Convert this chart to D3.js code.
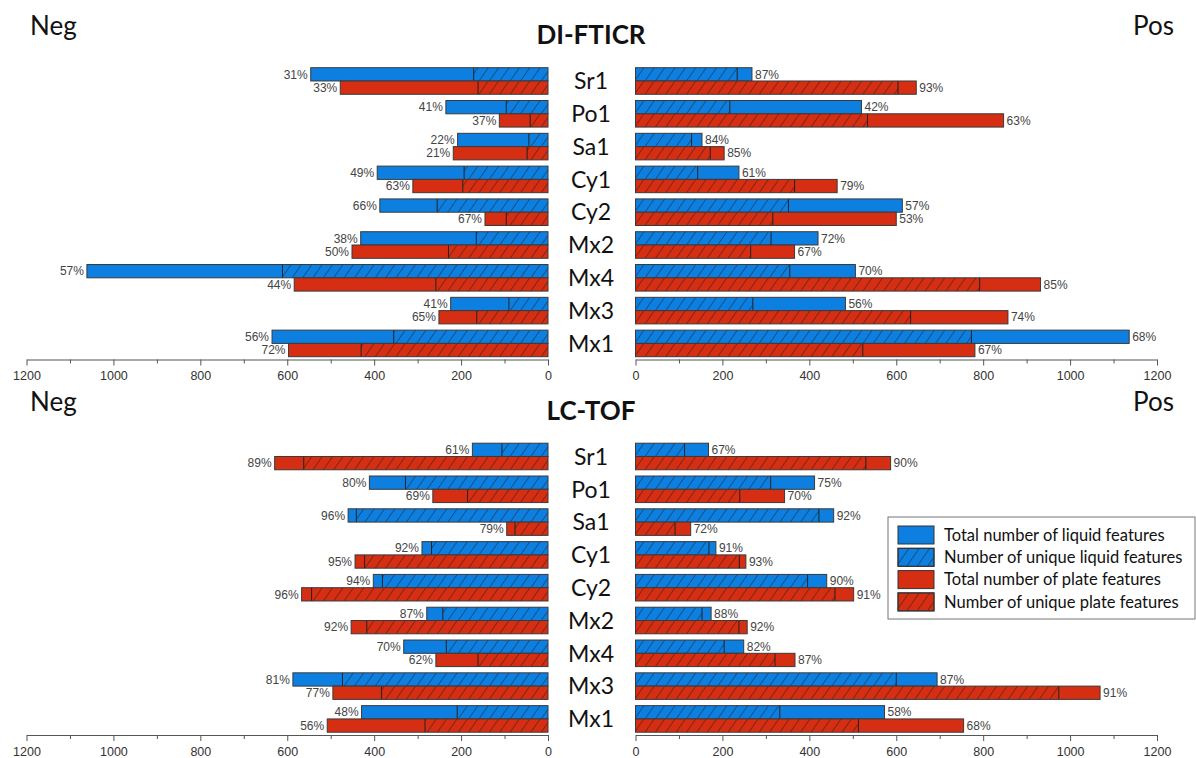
<!DOCTYPE html>
<meta charset="utf-8">
<title>DI-FTICR / LC-TOF features</title>
<style>
body { margin: 0; background: #fff; }
svg { display: block; }
.cat { font-family: Lato, "Noto Sans", sans-serif; font-size: 23px; fill: #111; }
.title { font-family: Lato, "Noto Sans", sans-serif; font-size: 26px; font-weight: bold; fill: #111; }
.side { font-family: Lato, "Noto Sans", sans-serif; font-size: 26px; fill: #111; }
.pct { font-family: "Liberation Sans", Arial, sans-serif; font-size: 12px; fill: #444; }
.axis text { font-family: "Liberation Sans", Arial, sans-serif; font-size: 12.5px; fill: #333; }
.axis path, .axis line { stroke: #555; }
.legend text { font-family: Lato, "Noto Sans", sans-serif; font-size: 16.5px; fill: #111; }
</style>
<body>
<script src="https://d3js.org/d3.v7.min.js"></script>
<script>

var categories = ["Sr1", "Po1", "Sa1", "Cy1", "Cy2", "Mx2", "Mx4", "Mx3", "Mx1"];
var ticks = [0, 200, 400, 600, 800, 1000, 1200];
var minorTicks = [100, 300, 500, 700, 900, 1100];

// DI-FTICR, negative mode
var ftNegLiquidTotal  = [546, 235, 208, 393, 387, 431, 1061, 224, 635];
var ftNegLiquidUnique = [171, 96, 44, 193, 255, 165, 611, 90, 355];
var ftNegLiquidPct    = [31, 41, 22, 49, 66, 38, 57, 41, 56];
var ftNegPlateTotal   = [478, 112, 218, 311, 145, 451, 584, 251, 597];
var ftNegPlateUnique  = [161, 41, 48, 196, 96, 229, 258, 164, 430];
var ftNegPlatePct     = [33, 37, 21, 63, 67, 50, 44, 65, 72];

// DI-FTICR, positive mode
var ftPosLiquidTotal  = [268, 520, 153, 238, 614, 420, 506, 483, 1136];
var ftPosLiquidUnique = [234, 217, 129, 143, 352, 312, 355, 270, 773];
var ftPosLiquidPct    = [87, 42, 84, 61, 57, 72, 70, 56, 68];
var ftPosPlateTotal   = [646, 847, 204, 464, 600, 366, 932, 857, 781];
var ftPosPlateUnique  = [604, 534, 172, 366, 316, 265, 792, 633, 523];
var ftPosPlatePct     = [93, 63, 85, 79, 53, 67, 85, 74, 67];

// LC-TOF, negative mode
var tofNegLiquidTotal  = [174, 411, 460, 290, 402, 279, 332, 587, 429];
var tofNegLiquidUnique = [106, 328, 441, 268, 381, 242, 234, 473, 209];
var tofNegLiquidPct    = [61, 80, 96, 92, 94, 87, 70, 81, 48];
var tofNegPlateTotal   = [629, 265, 95, 444, 567, 453, 258, 495, 508];
var tofNegPlateUnique  = [562, 185, 76, 422, 544, 417, 161, 383, 283];
var tofNegPlatePct     = [89, 69, 79, 95, 96, 92, 62, 77, 56];

// LC-TOF, positive mode
var tofPosLiquidTotal  = [168, 412, 456, 185, 440, 174, 249, 694, 573];
var tofPosLiquidUnique = [113, 311, 422, 169, 396, 153, 204, 600, 332];
var tofPosLiquidPct    = [67, 75, 92, 91, 90, 88, 82, 87, 58];
var tofPosPlateTotal   = [587, 343, 127, 254, 502, 257, 367, 1069, 755];
var tofPosPlateUnique  = [530, 240, 91, 239, 459, 238, 321, 974, 513];
var tofPosPlatePct     = [90, 70, 72, 93, 91, 92, 87, 91, 68];

var legendLabels = ["Total number of liquid features", "Number of unique liquid features",
                    "Total number of plate features", "Number of unique plate features"];

var blue = "#0d7fe0", red = "#d52e12";

var W = 1196, H = 758;
var svg = d3.select("body").append("svg").attr("width", W).attr("height", H);

// hatch pattern for the unique part
var defs = svg.append("defs");
defs.append("pattern")
    .attr("id", "hatch")
    .attr("patternUnits", "userSpaceOnUse")
    .attr("width", 8.5).attr("height", 8.5)
    .attr("patternTransform", "rotate(35)")
  .append("line")
    .attr("x1", 0).attr("y1", 0).attr("x2", 0).attr("y2", 8.5)
    .attr("stroke", "#1a1a1a").attr("stroke-width", 0.9);

var xNeg = d3.scaleLinear().domain([0, 1200]).range([548, 26.5]);
var xPos = d3.scaleLinear().domain([0, 1200]).range([635.5, 1157]);
var midX = 591;

function drawPanel(offsetY, title, neg, pos) {
  var g = svg.append("g").attr("transform", "translate(0," + offsetY + ")");

  var y = d3.scaleBand().domain(categories)
      .range([67.7, 356.7]).paddingInner(0.19).paddingOuter(0);
  var yIn = d3.scaleBand().domain(["liquid", "plate"]).range([0, y.bandwidth()]);

  g.append("text").attr("class", "title").attr("x", midX).attr("y", 44)
      .attr("text-anchor", "middle").text(title);
  g.append("text").attr("class", "side").attr("x", 30).attr("y", 35).text("Neg");
  g.append("text").attr("class", "side").attr("x", 1174).attr("y", 35)
      .attr("text-anchor", "end").text("Pos");

  g.selectAll(".cat").data(categories).enter().append("text")
      .attr("class", "cat")
      .attr("x", midX)
      .attr("y", function(d) { return y(d) + y.bandwidth() / 2; })
      .attr("dy", "0.36em")
      .attr("text-anchor", "middle")
      .text(function(d) { return d; });

  [[neg, xNeg, -1], [pos, xPos, 1]].forEach(function(side) {
    var s = side[0], x = side[1], dir = side[2];
    var rows = [];
    categories.forEach(function(c, i) {
      rows.push({cat: c, kind: "liquid", total: s.liquidTotal[i], unique: s.liquidUnique[i], pct: s.liquidPct[i], color: blue});
      rows.push({cat: c, kind: "plate", total: s.plateTotal[i], unique: s.plateUnique[i], pct: s.platePct[i], color: red});
    });

    var bar = g.append("g").selectAll("g").data(rows).enter().append("g")
        .attr("transform", function(d) { return "translate(0," + (y(d.cat) + yIn(d.kind)) + ")"; });
    var h = yIn.bandwidth();

    function rx(v) { return Math.min(x(0), x(v)); }
    function rw(v) { return Math.abs(x(v) - x(0)); }

    bar.append("rect")
        .attr("x", function(d) { return rx(d.total); })
        .attr("width", function(d) { return rw(d.total); })
        .attr("height", h)
        .attr("fill", function(d) { return d.color; });
    bar.append("rect")
        .attr("x", function(d) { return rx(d.unique); })
        .attr("width", function(d) { return rw(d.unique); })
        .attr("height", h)
        .attr("fill", "url(#hatch)");
    bar.append("line")
        .attr("x1", function(d) { return x(d.unique); })
        .attr("x2", function(d) { return x(d.unique); })
        .attr("y1", 0).attr("y2", h)
        .attr("stroke", "#222").attr("stroke-width", 1);
    bar.append("rect")
        .attr("x", function(d) { return rx(d.total); })
        .attr("width", function(d) { return rw(d.total); })
        .attr("height", h)
        .attr("fill", "none")
        .attr("stroke", "#3a3a3a").attr("stroke-width", 1);
    bar.append("text")
        .attr("class", "pct")
        .attr("x", function(d) { return x(d.total) + dir * 3; })
        .attr("y", h / 2)
        .attr("dy", "0.35em")
        .attr("text-anchor", dir < 0 ? "end" : "start")
        .text(function(d) { return d.pct + "%"; });

    var axisY = 359.5;
    g.append("g").attr("class", "axis")
        .attr("transform", "translate(0," + axisY + ")")
        .call(d3.axisBottom(x).tickValues(ticks).tickSize(6).tickSizeOuter(0).tickPadding(6)
              .tickFormat(d3.format("d")));
    g.append("g").attr("class", "axis")
        .attr("transform", "translate(0," + axisY + ")")
        .call(d3.axisBottom(x).tickValues(minorTicks).tickSize(4).tickSizeOuter(0).tickFormat(""))
        .select(".domain").remove();
  });
}

drawPanel(0, "DI-FTICR",
  {liquidTotal: ftNegLiquidTotal, liquidUnique: ftNegLiquidUnique, liquidPct: ftNegLiquidPct,
   plateTotal: ftNegPlateTotal, plateUnique: ftNegPlateUnique, platePct: ftNegPlatePct},
  {liquidTotal: ftPosLiquidTotal, liquidUnique: ftPosLiquidUnique, liquidPct: ftPosLiquidPct,
   plateTotal: ftPosPlateTotal, plateUnique: ftPosPlateUnique, platePct: ftPosPlatePct});

drawPanel(375.5, "LC-TOF",
  {liquidTotal: tofNegLiquidTotal, liquidUnique: tofNegLiquidUnique, liquidPct: tofNegLiquidPct,
   plateTotal: tofNegPlateTotal, plateUnique: tofNegPlateUnique, platePct: tofNegPlatePct},
  {liquidTotal: tofPosLiquidTotal, liquidUnique: tofPosLiquidUnique, liquidPct: tofPosLiquidPct,
   plateTotal: tofPosPlateTotal, plateUnique: tofPosPlateUnique, platePct: tofPosPlatePct});

// legend
var legend = svg.append("g").attr("class", "legend").attr("transform", "translate(888,517)");
legend.append("rect").attr("width", 307).attr("height", 102)
    .attr("fill", "#fff").attr("stroke", "#777").attr("stroke-width", 1);
var item = legend.selectAll(".item").data(legendLabels).enter().append("g")
    .attr("transform", function(d, i) { return "translate(10," + (9 + i * 22.3) + ")"; });
item.append("rect").attr("width", 36).attr("height", 18)
    .attr("fill", function(d, i) { return i < 2 ? blue : red; })
    .attr("stroke", "#333");
item.filter(function(d, i) { return i % 2 === 1; }).append("rect")
    .attr("width", 36).attr("height", 18)
    .attr("fill", "url(#hatch)").attr("stroke", "#333");
item.append("text").attr("x", 46).attr("y", 9).attr("dy", "0.35em")
    .text(function(d) { return d; });

</script>
</body>
